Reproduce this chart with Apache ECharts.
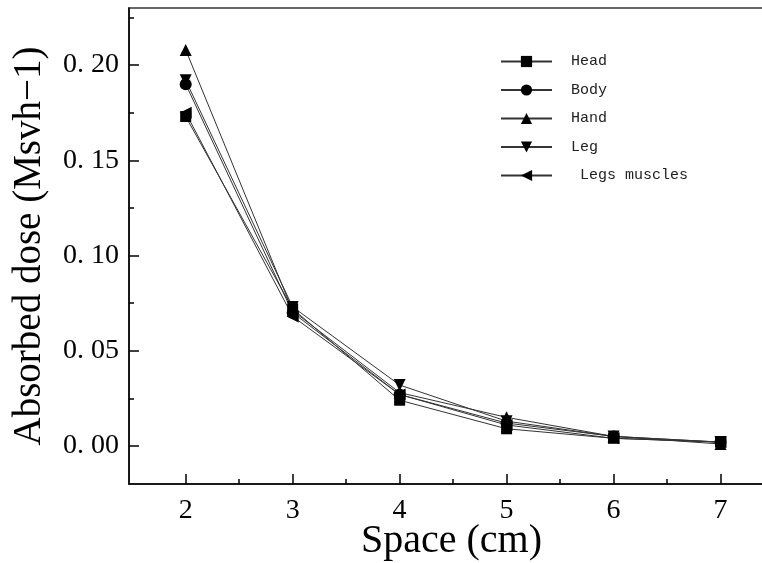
<!DOCTYPE html>
<html>
<head>
<meta charset="utf-8">
<script src="https://cdn.jsdelivr.net/npm/echarts@6/dist/echarts.min.js"></script>
<style>
  html, body { margin: 0; padding: 0; background: #fff; }
  #chart { width: 762px; height: 563px; }
</style>
</head>
<body>
<div id="chart"></div>
<script>
// 距离 (cm)
var spaces = [2, 3, 4, 5, 6, 7];
var seriesNames = ["Head", "Body", "Hand", "Leg", "Legs muscles"];
var headVals = [0.173, 0.072, 0.024, 0.009, 0.004, 0.002];
var bodyVals = [0.190, 0.070, 0.027, 0.012, 0.005, 0.002];
var handVals = [0.208, 0.071, 0.028, 0.015, 0.005, 0.001];
var legVals = [0.192, 0.073, 0.032, 0.013, 0.005, 0.002];
var musclesVals = [0.175, 0.068, 0.027, 0.011, 0.004, 0.002];
var xMajorTicks = [2, 3, 4, 5, 6, 7];
var xMinorTicks = [2.5, 3.5, 4.5, 5.5, 6.5];
var yMajorTicks = [0, 0.05, 0.1, 0.15, 0.2];
var yMinorTicks = [0.025, 0.075, 0.125, 0.175, 0.225];

var allVals = [headVals, bodyVals, handVals, legVals, musclesVals];
var symbols = ["rect", "circle", "triangle", "triangle", "triangle"];
var rotates = [0, 0, 0, 180, 90];

var chart = echarts.init(document.getElementById("chart"));

var serifFont = "Liberation Serif";
var xRange = { min: 1.47, max: 7.5 };
var yRange = { min: -0.02, max: 0.23 };

function pairs(vals) {
  return spaces.map(function (s, i) {
    return [s, vals[i]];
  });
}

var series = seriesNames.map(function (name, i) {
  return {
    name: name,
    type: "line",
    xAxisIndex: 0,
    yAxisIndex: 0,
    data: pairs(allVals[i]),
    symbol: symbols[i],
    symbolSize: i == 0 ? 11 : 12,
    symbolRotate: rotates[i],
    showAllSymbol: true,
    itemStyle: { color: "#000" },
    lineStyle: { color: "#333", width: 1 },
    emphasis: { disabled: true },
  };
});

var option = {
  animation: false,
  backgroundColor: "#fff",
  grid: {
    left: 129,
    top: 8,
    width: 645,
    bottom: 79,
    outerBoundsMode: "none",
    containLabel: false,
    show: true,
    borderColor: "#333",
    borderWidth: 1.5,
  },
  legend: {
    orient: "vertical",
    left: 495,
    top: 49,
    itemWidth: 51,
    itemHeight: 14,
    itemGap: 13.5,
    selectedMode: false,
    formatter: function (name) {
      return name == "Legs muscles" ? " " + name : name;
    },
    textStyle: {
      fontFamily: "Liberation Mono",
      fontSize: 15,
      color: "#222",
      padding: [0, 0, 0, 14],
    },
    data: seriesNames,
  },
  xAxis: [
    {
      type: "value",
      min: xRange.min,
      max: xRange.max,
      name: "Space (cm)",
      nameLocation: "middle",
      nameGap: 37,
      nameMoveOverlap: false,
      nameTextStyle: { fontFamily: serifFont, fontSize: 40, color: "#000" },
      splitLine: { show: false },
      axisLine: { show: true, onZero: false, lineStyle: { color: "#000", width: 1.5 } },
      axisTick: { show: true, inside: true, length: 10, customValues: xMajorTicks, lineStyle: { color: "#000", width: 1.5 } },
      axisLabel: {
        customValues: xMajorTicks,
        margin: 13,
        fontFamily: serifFont,
        fontSize: 28,
        color: "#000",
      },
    },
    {
      type: "value",
      min: xRange.min,
      max: xRange.max,
      position: "bottom",
      splitLine: { show: false },
      axisLine: { show: false, onZero: false },
      axisLabel: { show: false },
      axisTick: { show: true, inside: true, length: 5, customValues: xMinorTicks, lineStyle: { color: "#000", width: 1.5 } },
    },
  ],
  yAxis: [
    {
      type: "value",
      min: yRange.min,
      max: yRange.max,
      name: "Absorbed dose (Msvh\u22121)",
      nameLocation: "middle",
      nameGap: 80,
      nameTextStyle: { fontFamily: serifFont, fontSize: 39, color: "#000" },
      splitLine: { show: false },
      axisLine: { show: true, onZero: false, lineStyle: { color: "#000", width: 1.5 } },
      axisTick: { show: true, inside: true, length: 10, customValues: yMajorTicks, lineStyle: { color: "#000", width: 1.5 } },
      axisLabel: {
        customValues: yMajorTicks,
        margin: 10,
        fontFamily: serifFont,
        fontSize: 28,
        color: "#000",
        formatter: function (v) {
          return v.toFixed(2).replace(".", ". ");
        },
      },
    },
    {
      type: "value",
      min: yRange.min,
      max: yRange.max,
      position: "left",
      splitLine: { show: false },
      axisLine: { show: false, onZero: false },
      axisLabel: { show: false },
      axisTick: { show: true, inside: true, length: 5, customValues: yMinorTicks, lineStyle: { color: "#000", width: 1.5 } },
    },
  ],
  series: series,
};

chart.setOption(option);
</script>
</body>
</html>
